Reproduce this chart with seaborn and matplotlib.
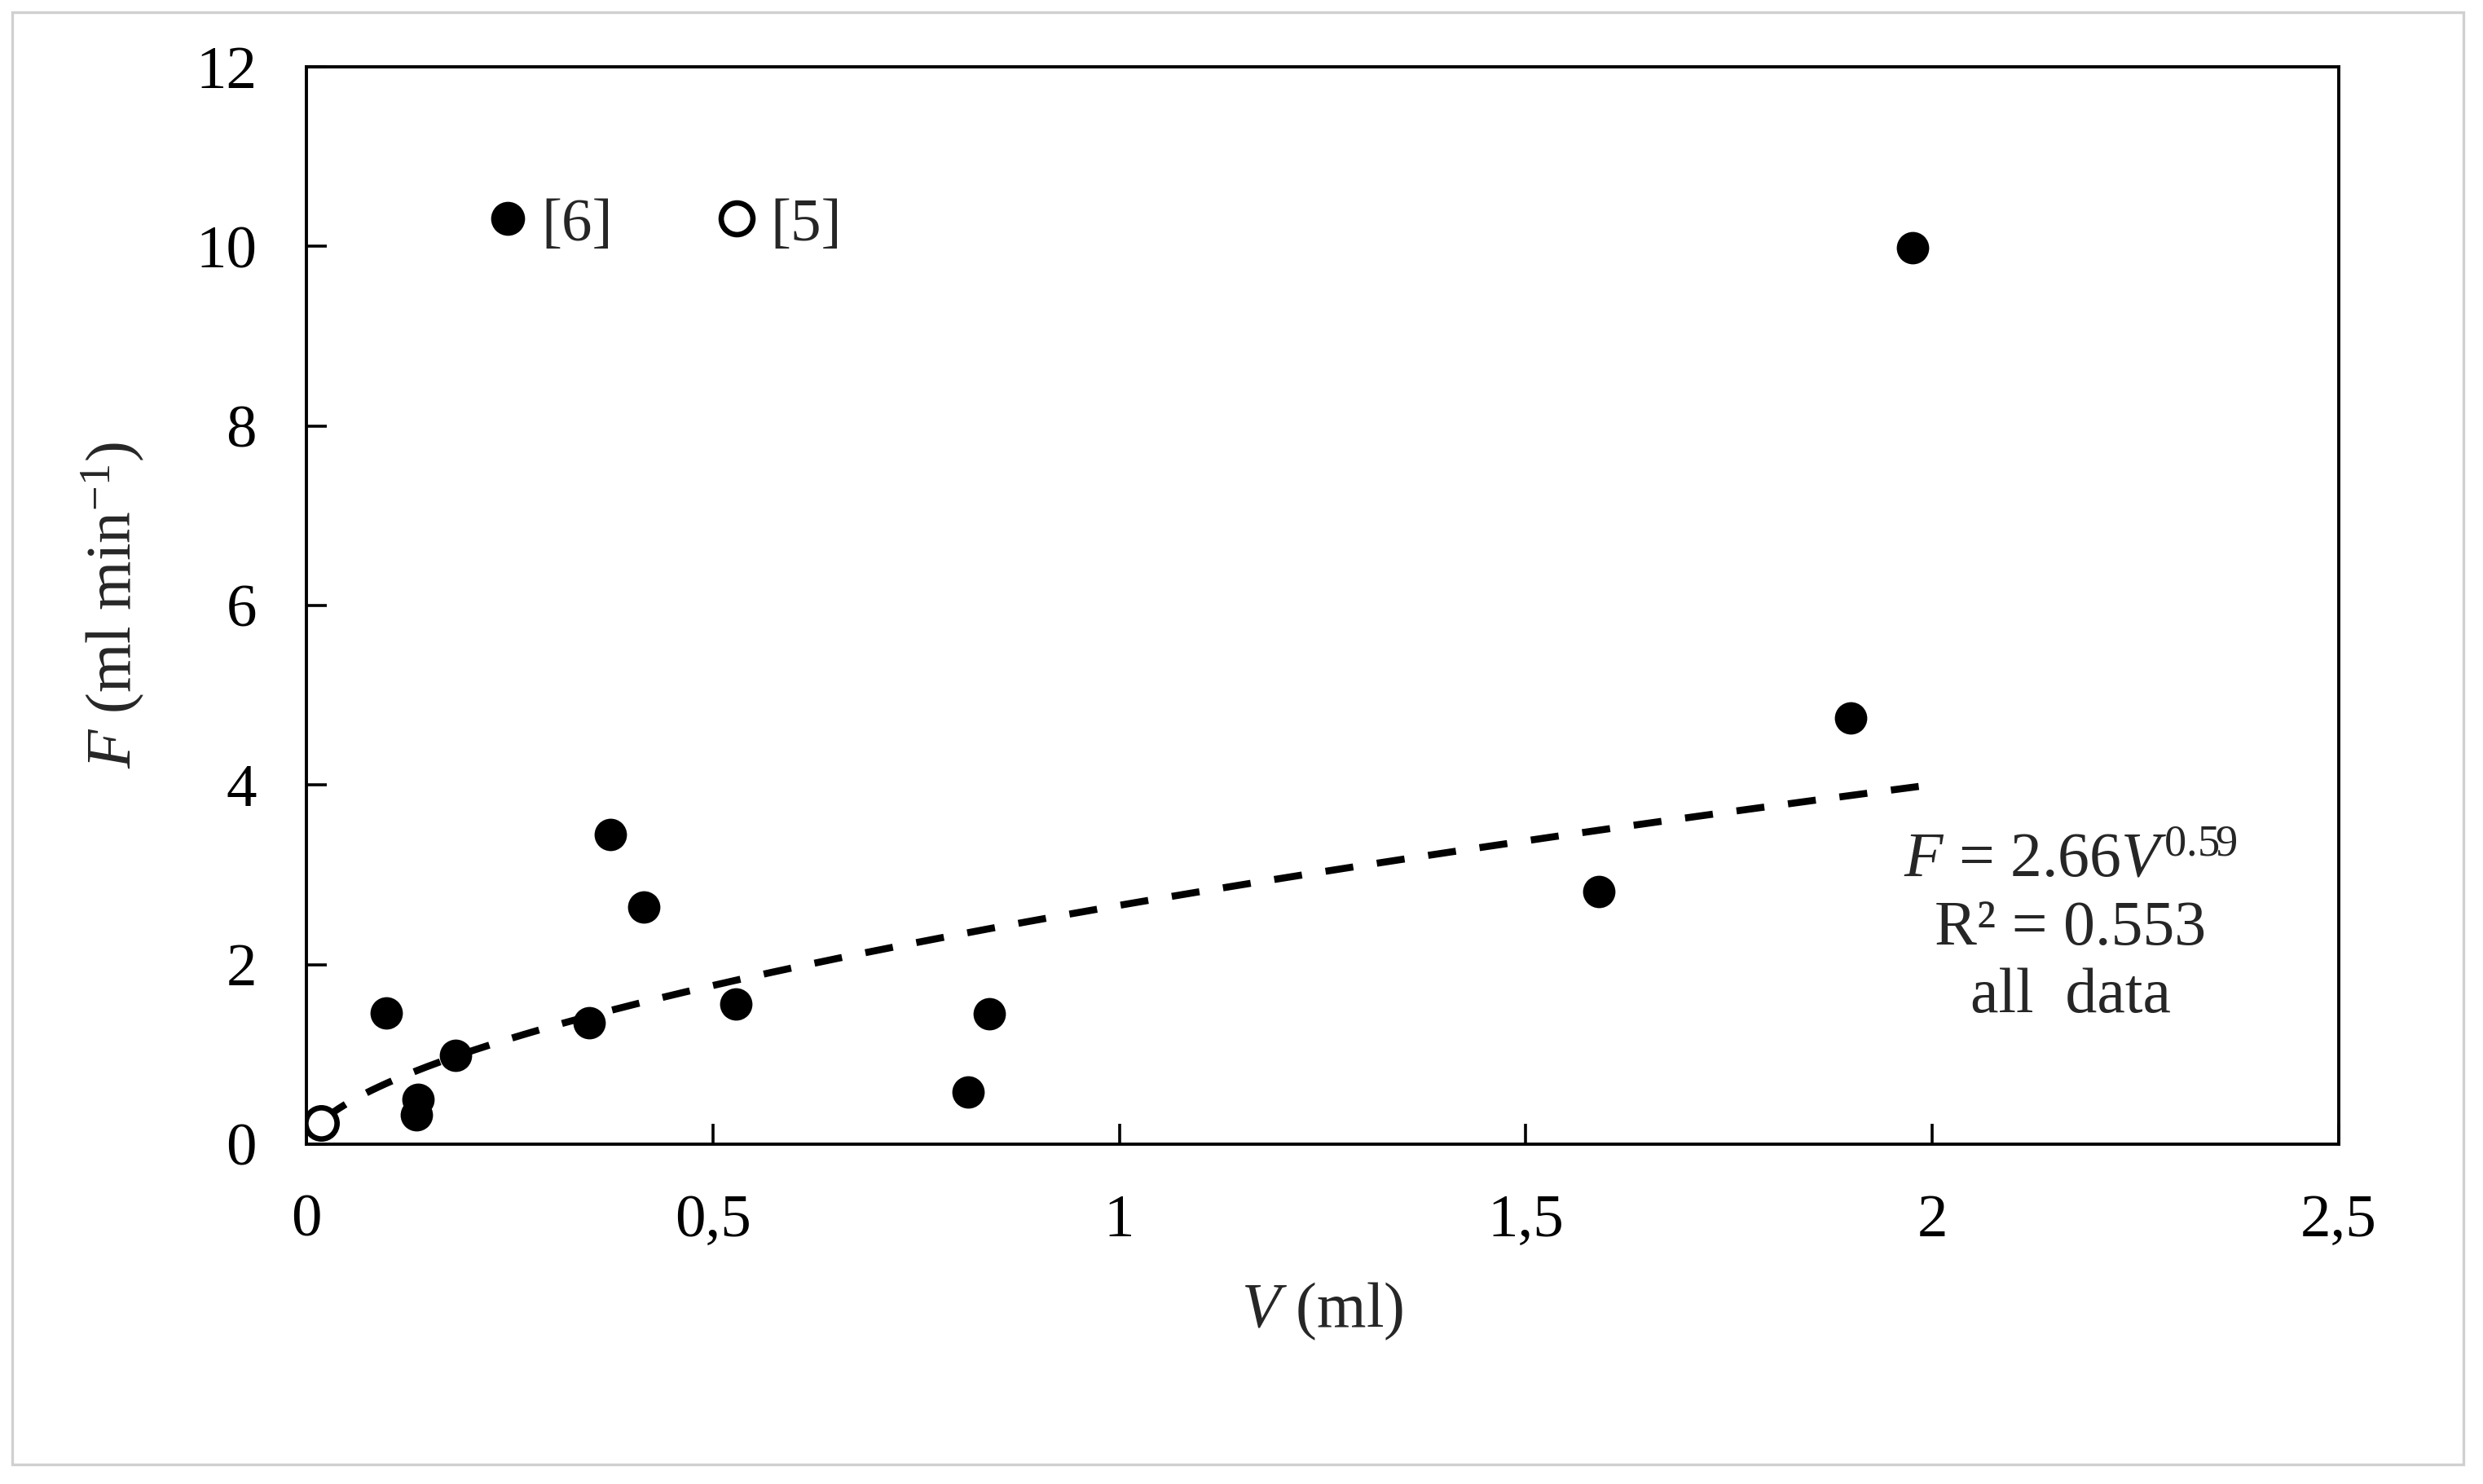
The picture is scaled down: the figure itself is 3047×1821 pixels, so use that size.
import numpy as np
import pandas as pd
import matplotlib
matplotlib.use('Agg')
import matplotlib.pyplot as plt
from matplotlib.lines import Line2D
from matplotlib.patches import Rectangle
import seaborn as sns

# data
v_ref6 = [0.098, 0.135, 0.137, 0.183, 0.348, 0.374, 0.415, 0.528, 0.814, 0.840, 1.59, 1.90, 1.976]
f_ref6 = [1.46, 0.33, 0.50, 0.99, 1.35, 3.45, 2.64, 1.56, 0.58, 1.45, 2.81, 4.75, 9.98]
v_ref5 = [0.018]
f_ref5 = [0.24]

# power fit printed on the chart
fit_a = 2.66
fit_b = 0.59
fit_range = (0.02, 1.985)

x_ticks = [0, 0.5, 1, 1.5, 2, 2.5]
x_tick_labels = ['0', '0,5', '1', '1,5', '2', '2,5']
y_ticks = [0, 2, 4, 6, 8, 10, 12]

sns.set_style('ticks')
plt.rcParams['font.family'] = ['Liberation Serif', 'DejaVu Serif']
plt.rcParams['mathtext.fontset'] = 'custom'
plt.rcParams['mathtext.rm'] = 'Liberation Serif'
plt.rcParams['mathtext.it'] = 'Liberation Serif:italic'

fig = plt.figure(figsize=(15.235, 9.105), dpi=200)
ax = fig.add_axes([0.1234, 0.229, 0.8185, 0.726])

df6 = pd.DataFrame({'V': v_ref6, 'F': f_ref6})
df5 = pd.DataFrame({'V': v_ref5, 'F': f_ref5})

v_fit = np.linspace(fit_range[0], fit_range[1], 200)
fit_df = pd.DataFrame({'V': v_fit, 'F': fit_a * v_fit ** fit_b})
sns.lineplot(data=fit_df, x='V', y='F', ax=ax, color='black', linewidth=3.1,
             zorder=2)
# seaborn only uses `dashes` with a style variable, so set them on the line
ax.lines[-1].set_dashes((4, 3.4))

sns.scatterplot(data=df6, x='V', y='F', ax=ax, s=205, color='black',
                edgecolor='black', linewidth=0, zorder=3)
sns.scatterplot(data=df5, x='V', y='F', ax=ax, s=190, facecolor='white',
                edgecolor='black', linewidth=2.4, zorder=3)

ax.set_xlim(0, 2.5)
ax.set_ylim(0, 12)
ax.set_xticks(x_ticks)
ax.set_xticklabels(x_tick_labels)
ax.set_yticks(y_ticks)
ax.tick_params(direction='in', length=9, width=1.3, labelsize=27, pad=22,
               colors='black')
for sp in ax.spines.values():
    sp.set_linewidth(1.4)
    sp.set_color('black')

ax.set_xlabel('$V$ (ml)', fontsize=28, labelpad=14)
ax.set_ylabel('$F$ (ml min$^{-1}$)', fontsize=28, labelpad=22)

# legend at top left
handles = [
    Line2D([], [], marker='o', linestyle='none', markersize=14,
           markerfacecolor='black', markeredgecolor='black', label='[6]'),
    Line2D([], [], marker='o', linestyle='none', markersize=14,
           markerfacecolor='white', markeredgecolor='black',
           markeredgewidth=2.4, label='[5]'),
]
ax.legend(handles=handles, loc='center left', bbox_to_anchor=(0.087, 0.853),
          ncol=2, frameon=False, fontsize=27, handlelength=0.8,
          handletextpad=0.15, columnspacing=1.63, borderpad=0,
          borderaxespad=0)

ax.text(2.17, 3.15, '$F$ = 2.66$V^{0.59}$', fontsize=28, ha='center', va='center')
ax.text(2.17, 2.39, 'R² = 0.553', fontsize=28, ha='center', va='center')
ax.text(2.17, 1.64, 'all  data', fontsize=28, ha='center', va='center')

# thin grey frame round the whole picture
fig.patches.append(Rectangle((15 / 3047, 24 / 1821), 3008 / 3047, 1782 / 1821,
                             transform=fig.transFigure, fill=False,
                             edgecolor='#d0d0d0', linewidth=1.2))

fig.savefig('out.png', dpi=200, facecolor='white')
